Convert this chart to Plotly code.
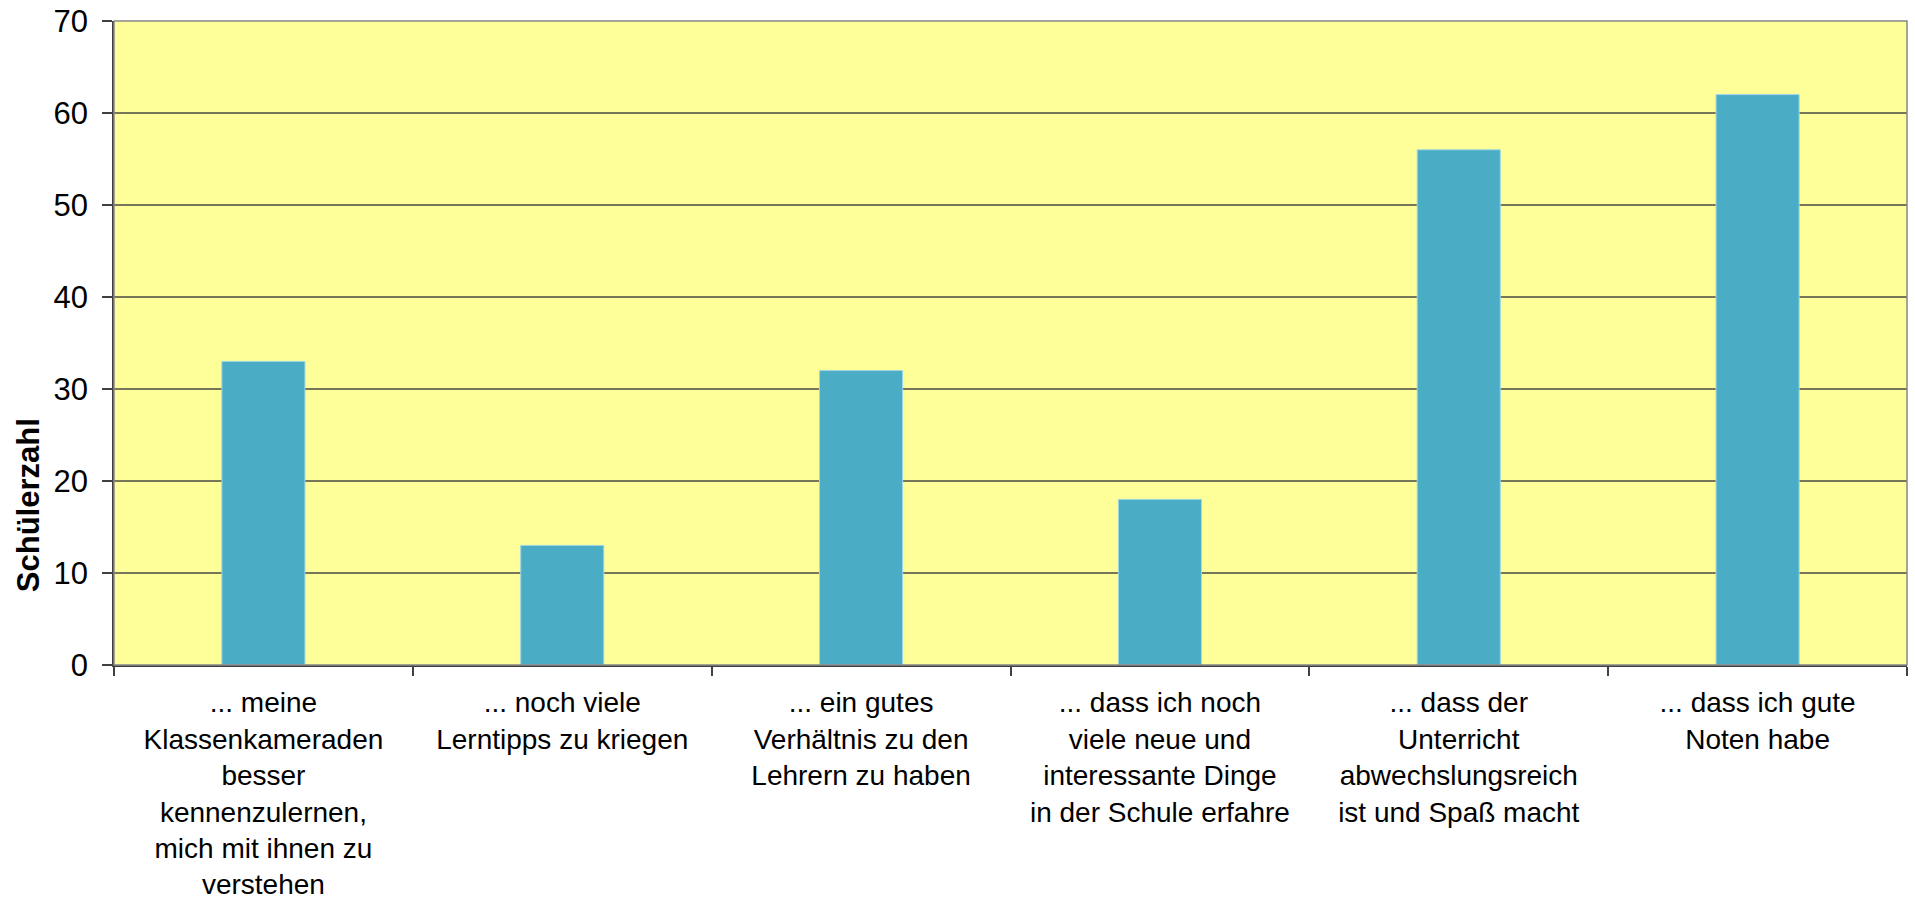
import plotly.graph_objects as go

categories = [
    "... meine<br>Klassenkameraden<br>besser<br>kennenzulernen,<br>mich mit ihnen zu<br>verstehen",
    "... noch viele<br>Lerntipps zu kriegen",
    "... ein gutes<br>Verhältnis zu den<br>Lehrern zu haben",
    "... dass ich noch<br>viele neue und<br>interessante Dinge<br>in der Schule erfahre",
    "... dass der<br>Unterricht<br>abwechslungsreich<br>ist und Spaß macht",
    "... dass ich gute<br>Noten habe",
]
values = [33, 13, 32, 18, 56, 62]
y_ticks = [0, 10, 20, 30, 40, 50, 60, 70]
y_title = "Schülerzahl"

FONT = "Liberation Sans, Arial, sans-serif"

fig = go.Figure()
fig.add_trace(go.Bar(
    x=categories, y=values,
    marker=dict(color="#4BACC6", line=dict(color="#9ED6E3", width=1)),
))

fig.update_layout(
    width=1915, height=903,
    margin=dict(l=114, r=8, t=21, b=238, autoexpand=False),
    paper_bgcolor="white", plot_bgcolor="#FFFF99",
    bargap=0.722, showlegend=False,
    font=dict(family=FONT, color="black"),
)
fig.update_xaxes(
    showline=True, linecolor="#404040", linewidth=1.5,
    ticks="outside", ticklen=9, tickcolor="#404040", tickwidth=1.5,
    tickson="boundaries", tickangle=0,
    tickfont=dict(size=28, family=FONT, color="black"),
    ticklabelstandoff=12, automargin=False,
)
fig.update_yaxes(
    range=[0, 70], tickvals=y_ticks,
    showline=True, linecolor="#404040", linewidth=1.5,
    ticks="outside", ticklen=10, tickcolor="#404040", tickwidth=1.5,
    showgrid=True, gridcolor="#76765A", gridwidth=1.5,
    tickfont=dict(size=31, family=FONT, color="black"),
    ticklabelstandoff=8, zeroline=False, automargin=False,
)
# top/right border of the plot area
fig.add_shape(type="rect", xref="paper", yref="paper", x0=0, x1=1, y0=0, y1=1,
              line=dict(color="#888888", width=1.5), layer="above")
fig.add_annotation(
    text="<b>" + y_title + "</b>", xref="paper", yref="paper",
    x=-0.048, y=0.248, xanchor="center", yanchor="middle",
    textangle=-90, showarrow=False,
    font=dict(size=31, family=FONT, color="black"),
)
fig.write_html("out.html", config={"displayModeBar": False},
               post_script="document.body.style.margin='0';")
